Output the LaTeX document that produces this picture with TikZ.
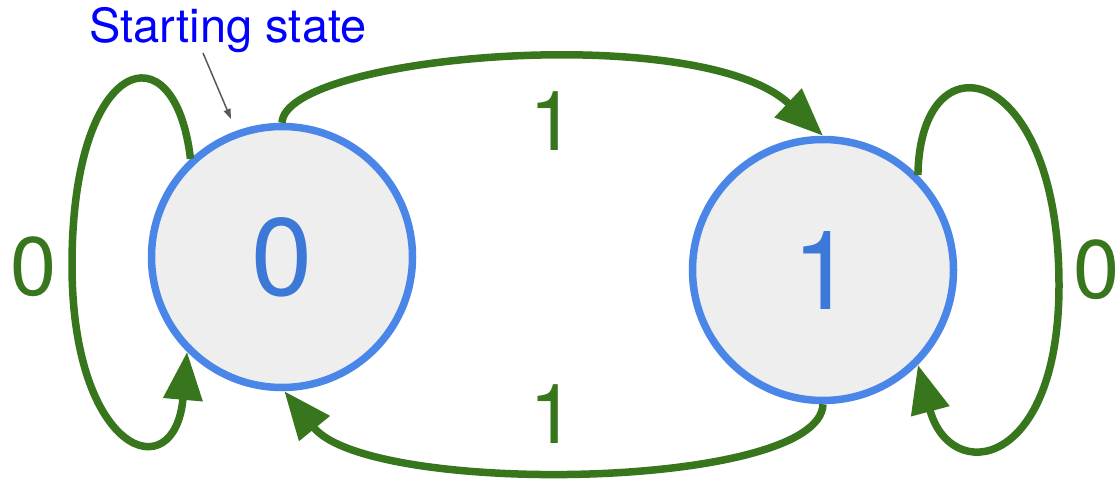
\documentclass[tikz,border=0pt]{standalone}
\usepackage{fontspec}
\setmainfont{TeX Gyre Heros}
\usetikzlibrary{arrows.meta}
\definecolor{fsm-green}{HTML}{38761D}
\definecolor{fsm-ring}{HTML}{4A86E8}
\definecolor{fsm-fill}{HTML}{EEEEEE}
\definecolor{fsm-digit}{HTML}{3C78D8}
\definecolor{fsm-note}{HTML}{0000FF}
\definecolor{fsm-grey}{HTML}{595959}
\tikzset{
  tilstand/.style={circle, draw=fsm-ring, fill=fsm-fill, line width=7.5pt,
    minimum size=261pt, inner sep=0pt, text=fsm-digit,
    font=\fontsize{110}{120}\selectfont},
  overgang/.style={draw=fsm-green, line width=7.5pt,
    -{Triangle[length=48pt,width=38pt]}},
  etiket/.style={text=fsm-green, inner sep=0pt,
    font=\fontsize{83}{90}\selectfont},
}

\begin{document}
\begin{tikzpicture}[x=1pt, y=-1pt]
  \useasboundingbox (0,0) rectangle (1119,482);
  % tilstande
  \node[tilstand] (s0) at (282,257) {0};
  \node[tilstand] (s1) at (823,270) {1};
  % overgange
  \draw[overgang] (s0.north) .. controls (285,55) and (700,20) .. (s1.north);
  \draw[overgang] (s1.south) .. controls (820,490) and (370,497) .. (s0.-89);
  % løkker
  \draw[overgang] (s0.133) .. controls (175,25) and (72,55) .. (72,265)
    .. controls (72,455) and (175,490) .. (s0.225);
  \draw[overgang] (s1.45) .. controls (920,32) and (1059,62) .. (1059,285)
    .. controls (1059,470) and (950,485) .. (s1.-45);
  % etiketter
  \foreach \navn/\x/\y/\t in {l01/553/121.5/1, l10/553/414.5/1,
      l00/33.5/266.5/0, l11/1097/270/0}{
    \node[etiket] (\navn) at (\x,\y) {\t};
  }
  % starttilstand
  \node[text=fsm-note, anchor=base, inner sep=0pt,
    font=\fontsize{47}{56}\selectfont] (start) at (228,42) {Starting state};
  \coordinate (pil-fra) at (203,53);
  \coordinate (pil-til) at (231,119);
  \draw[fsm-grey, line width=1.5pt, -{Triangle[length=10pt,width=7pt]}]
    (pil-fra) -- (pil-til);
\end{tikzpicture}
\end{document}
